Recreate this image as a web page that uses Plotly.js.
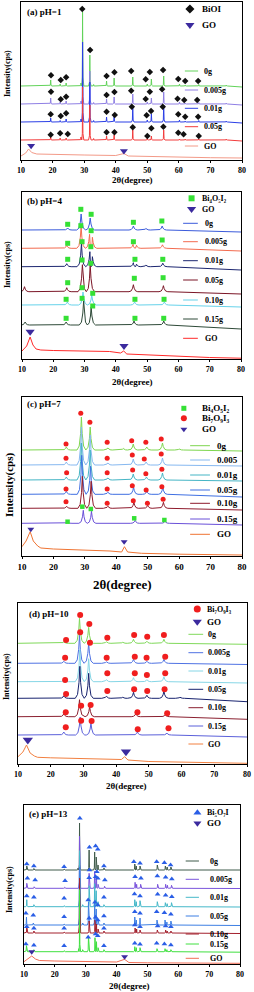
<!DOCTYPE html>
<html><head><meta charset="utf-8">
<script src="https://cdn.plot.ly/plotly-3.0.1.min.js"></script>
<style>html,body{margin:0;padding:0;background:#fff}#chart{width:254px;height:992px}</style>
</head><body><div id="chart"></div>
<script>
// ================= DATA (2θ in degrees, intensity in a.u.) =================
const xTicks = [10,20,30,40,50,60,70,80];
const xTickText = ['10','20','30','40','50','60','70','80'];

// ---- (a) pH=1 ----
const aNames = ['0g','0.005g','0.01g','0.05g','GO'];
const aBase = [74,56,38,20];
const aEnd  = [73,55,37,19];
const a0g   = [[19.4,6],[22.4,2],[24.3,3],[29.0,3],[29.5,74],[31.8,31],[33.0,1.5],[37.1,5],[39.5,8],[45.4,9],[50.0,2],[51.3,7],[55.2,10],[60.2,2],[62.0,1],[66.3,1.5],[75.0,1]];
const a005g = [[19.4,6],[22.4,2],[24.3,3],[29.0,3],[29.5,62],[31.8,33],[33.0,1.5],[37.1,5],[39.5,7],[45.4,10],[50.0,2],[51.3,6],[55.2,12],[60.2,2],[62.0,1],[66.3,1.5],[75.0,1]];
const a001g = [[19.4,4],[22.4,1.5],[24.3,3],[29.0,3],[29.5,80],[31.8,40],[33.0,1.5],[37.1,5],[39.5,6],[45.4,16],[50.0,2],[51.3,8],[55.2,17],[60.2,2],[62.0,1],[66.3,1.5],[75.0,1]];
const a005g2= [[19.4,3],[22.4,2],[24.3,2],[29.0,3],[29.5,53],[31.8,35],[33.0,1.5],[37.1,4],[39.5,5],[45.4,10],[50.0,2],[51.3,4],[55.2,10],[60.2,1],[62.0,1],[66.3,1],[75.0,1]];
const aGO   = [[10,4],[11.5,7],[12.4,11],[13.4,7.5],[15,6],[20,5.5],[30,5],[40,4.5],[42.6,6.5],[44,4],[50,3.5],[60,2.8],[70,2.3],[80,2]];
const aMkX = [
 [19.5,22.6,24.3,29.4,31.9,37.1,39.6,44.9,49.5,50.8,55.0,59.8,62.0,66.1],
 [19.5,22.6,24.3,37.1,39.6,44.9,49.5,50.8,54.7,59.6,61.7,65.8],
 [19.4,22.6,24.3,37.1,39.7,45.1,49.8,51.2,54.9,59.8,62.0,66.1],
 [19.4,22.4,24.8,37.1,39.6,45.4,50.0,51.3,55.1,59.8,61.5,66.3]];
const aMkY = [
 [84.7,80,82.7,151,110,84,87.7,89,80.7,88,90,81,79,79],
 [68.3,60.7,63.3,65,68,69.3,61,68.3,70.7,61.3,60,60],
 [45.7,44,46.7,48.3,45,53.3,44.7,49,53.3,45.7,43.3,43.3],
 [25.3,26.7,26,27.7,27.7,32.7,24,31.7,33.3,27.3,25.7,24]];
const aGOmkX = [13.2,42.6], aGOmkY = [14.3,9];

// ---- (b) pH=4 ----
const bNames = ['0g','0.005g','0.01g','0.05g','0.10g','0.15g','GO'];
const bBase = [129,110.7,92.3,67.3,54,34];
const bEnd  = [127,108,89,65,52,30];
const b0g   = [[24.6,2],[28.9,16],[31.8,12],[45.6,4],[49.6,1.5],[54.8,4]];
const b005g = [[24.3,3],[28.9,22],[31.6,14],[32.5,11],[45.5,4],[46.6,3],[54.9,3.5]];
const b001g = [[24.3,3],[29.0,23],[31.7,15],[32.5,10],[45.6,4],[46.6,2.5],[49.6,1.5],[55.0,3.5]];
const b005g2= [[10.8,5],[24.3,4],[29.3,27],[31.8,27],[45.6,7],[55.2,6]];
const b010g = [[24.5,3],[29.5,13],[32.3,10],[46.0,3],[55.5,3]];
const b015g = [[11.0,3],[24.1,3],[29.7,24],[32.1,18],[45.8,4],[55.3,4]];
const bGO   = [[10,8],[11.5,13],[12.6,22],[13.5,14],[14.5,10],[16,9],[20,8.5],[30,8],[38,7.5],[41.5,6],[42.5,8],[43.5,5],[50,4],[60,2.5],[70,1.5],[80,0.8]];
const bMkX = [
 [24.6,28.8,32.1,45.6,54.7],[24.6,28.8,32.1,45.6,54.8],[24.6,29.2,32.0,46.1,55.0],
 [24.6,29.2,32.0,45.9,55.1],[24.1,29.2,32.6,46.1,55.4],[24.1,29.2,32.6,46.1,55.3]];
const bMkY = [
 [134.7,149.7,144.7,136.7,138],[115.7,133.3,128.3,117.3,119],[99.7,117.3,112.3,99.7,99.7],
 [76.3,99,95.7,80.7,81.3],[59.7,71.3,65.7,59.7,59.7],[40.7,60.7,53,40.7,40.7]];
const bGOmkX = [12.6,42.6], bGOmkY = [27.3,13];

// ---- (c) pH=7 ----
const cNames = ['0g','0.005','0.01g','0.05g','0.10g','0.15g','GO'];
const cBase = [106,91,76,61.7,47.7,32.7];
const cEnd  = [105,90,75,59,46,31];
const c0g   = [[24.1,3],[28.9,33],[31.7,23],[37.3,2],[42.2,1.5],[45.4,6],[49.7,3],[54.7,7],[60.0,1]];
const c005  = [[24.1,3],[28.9,38],[31.7,30],[37.3,2],[45.4,6],[49.5,3],[54.7,7]];
const c001g = [[24.1,3],[28.9,37],[31.7,30],[37.3,2],[45.4,6],[49.6,3],[54.7,7]];
const c005g = [[24.1,3],[29.0,39],[31.8,28],[37.3,2],[45.5,7],[49.7,3],[54.8,7]];
const c010g = [[24.2,2],[29.2,32],[32.0,27],[37.3,2],[45.6,6],[50.0,3],[55.0,6]];
const c015g = [[24.5,1],[29.5,13],[32.1,12],[46.0,3],[55.5,2]];
const cGO   = [[10,9.3],[11.3,15],[12.6,24.3],[13.6,15],[15,10],[16,8],[20,7],[30,6],[38,5],[41.7,4],[42.6,9.3],[43.6,4],[48,2.7],[60,1.8],[70,1.3],[80,1]];
const cCircX = [[24.0,28.7,31.6,37.1,44.9,49.4,54.3],[24.0,37.1,45.1,48.9,54.3],[24.2,37.1,45.2,49.4,54.5],[24.0,37.1,45.1,49.5,54.5],[24.0,37.1,45.4,49.9,54.9]];
const cCircY = [[112,142.7,133.7,113.7,115.3,113.7,117],[97.7,97.7,101,97,102],[83.3,83.3,86,82.3,86.7],[67,67,70.3,66,69.3],[54.3,52.7,55.3,52.7,56.7]];
const cSqX = [24.5,29.2,31.9,45.7,55.3], cSqY = [34.3,49.3,47,37.7,36];
const cGOmkX = [12.8,42.5], cGOmkY = [26.7,14.3];

// ---- (d) pH=10 ----
const dNames = ['0g','0.005g','0.01g','0.05g','0.10g','0.15g','GO'];
const dBase = [120.7,100.7,82.3,65.7,47.3,29];
const dEnd  = [119.7,99.5,81,62.3,44.7,27];
const d0g   = [[24.0,1.5],[28.8,25],[31.6,16],[37.0,1.5],[42.0,1],[45.3,4],[49.4,2],[54.6,4]];
const d005g = [[24.0,2],[28.8,28],[31.6,20],[37.0,1.5],[45.3,4],[49.4,2],[54.6,4]];
const d001g = [[24.0,2],[28.9,32],[31.6,23],[37.0,2],[45.3,4],[49.4,2],[54.6,5]];
const d005g2= [[24.0,2.5],[28.9,32],[31.6,25],[37.0,2],[42.0,1],[45.3,6],[49.4,3],[54.6,7],[59.5,1]];
const d010g = [[24.0,3],[28.8,17],[31.9,10],[46.0,3],[55.0,2]];
const d015g = [[24.0,3],[29.0,18],[32.3,12],[46.5,3],[55.5,2]];
const dGO   = [[10,7.3],[11.5,12],[12.6,19],[13.7,11],[15,8],[16,6.7],[20,6.2],[30,5.7],[38,5],[41.6,4.5],[42.6,7.3],[43.6,4],[50,2.5],[60,1.8],[70,1.2],[80,0.7]];
const dMkX = [[24.7,29.0,31.8,37.3,45.5,49.5,54.6],[24.4,29.0,32.0,37.1,45.7,49.3,55.0],[24.4,37.3,45.7,49.4,55.0],[24.7,37.3,45.5,49.5,54.8],[24.6,29.3,32.2,46.5,55.6],[24.6,29.3,32.5,46.6,56.0]];
const dMkY = [[124,149,140,126.3,129,127.3,129],[106.3,131.7,121.3,106.3,107.3,106.3,107.3],[84,90.7,90.7,89,90.7],[70,73,74.7,73,74.7],[51.7,58.3,59,51.7,50.7],[36.7,43.3,43,34.7,35.7]];
const dGOmkX = [13.0,43.0], dGOmkY = [24,12.3];

// ---- (e) pH=13 ----
const eNames = ['0g','0.005g','0.01g','0.05g','0.10g','0.15g','GO'];
const eBase = [94,75.7,57.3,39,31,12.3];
const eEnd  = [94,75.5,57,38.5,30.5,11.8];
const e0g   = [[10.9,4],[13.2,1.5],[23.0,1],[27.5,2],[28.0,47],[31.1,20],[32.9,18],[33.4,13],[34.0,5],[35.9,2],[45.9,6],[46.4,4],[47.6,4],[53.2,5],[55.8,4],[56.4,3],[57.6,3]];
const e005g = [[10.9,5],[13.3,1.5],[23.2,1],[28.0,52],[31.1,15],[32.9,17],[33.5,12],[34.0,4],[36.1,2],[46.0,6],[46.5,4],[47.8,4],[53.3,4],[55.9,4],[56.5,3],[57.8,3]];
const e001g = [[10.9,7],[13.2,2],[23.0,1],[28.0,56],[29.0,2],[31.1,21],[32.9,23],[33.4,16],[34.0,5],[35.9,2],[45.9,7],[46.4,5],[47.6,6],[53.2,5],[55.8,4],[56.4,3],[57.8,4]];
const e005g2= [[10.8,8],[13.0,2],[23.0,1],[28.0,58],[29.0,2],[30.9,23],[32.9,22],[33.4,16],[34.0,5],[35.9,2],[45.9,8],[46.4,5],[47.6,7],[53.1,5],[55.7,5],[56.3,3],[57.6,4]];
const e010g = [[10.9,6],[13.2,2],[23.0,1],[28.0,55],[31.1,12],[33.0,13],[33.5,9],[34.0,4],[35.9,2],[46.0,5],[46.5,4],[47.6,3],[53.2,3],[55.9,3],[56.4,2],[57.6,2]];
const e015g = [[10.8,6],[13.2,2],[23.0,1],[27.7,3],[28.0,62],[29.0,2],[30.9,15],[33.0,14],[33.5,10],[34.0,4],[35.9,2],[45.9,5],[46.4,4],[47.6,4],[53.1,3],[55.7,3],[56.3,2],[57.6,2]];
const eGO   = [[10,2.3],[11.3,5],[12.5,8],[13.7,5],[15,3.5],[20,3],[30,2.5],[40,2],[42.6,4.7],[44,1.5],[50,1.2],[60,1],[80,0.7]];
const eMkX = [
 [10.9,13.2,23.0,28.1,31.2,33.2,33.9,35.9,45.6,47.6,53.0,55.5,57.5],
 [11.1,13.6,23.3,31.2,33.6,36.2,46.0,47.9,53.2,55.9,57.9],
 [10.9,13.2,23.0,31.1,33.2,33.9,35.9,45.8,47.6,53.3,55.9,57.9],
 [10.6,13.0,23.0,30.8,33.0,33.9,35.9,45.9,47.6,53.0,55.5,57.6],
 [10.9,13.2,23.0,31.1,33.2,33.9,35.9,45.9,47.6,53.3,55.9,57.6],
 [10.6,13.2,23.0,30.8,33.2,33.9,35.9,45.9,47.6,53.0,55.5,57.6]];
const eMkY = [
 [100,98,97.3,145.7,116.7,118,114.7,98,102.3,100.7,102.3,101.3,99],
 [85.7,84,83.3,94,92.3,84,87.3,85.7,88,86.7,85],
 [68,66.7,65.7,86.3,87.3,85.7,66.7,70,68,69.7,68.7,67.3],
 [50.7,48.7,47.3,64,61.7,59,48,52.3,50.7,52.3,51.3,49.7],
 [37.3,35.7,35.7,45.7,46.7,44,35.7,39,37.3,38,38,37.3],
 [20,18.7,18.3,26.7,30,28.3,18.3,20.7,19.7,20.7,20,19]];
const eGOmkX = [12.5,42.6], eGOmkY = [12.3,7.3];

// ================= STYLE / LAYOUT =================
const FW = 254, FH = 992;
const SERIF = 'Liberation Serif, Times New Roman, serif';
const boxes = [[21,242,2,160],[22,241,192,359],[22,242,397,556],[18,247,603,764],[24,240,805,964]]; // px: left,right,top,bottom

function curve(base, end, peaks, W, broad){
  const x=[10], y=[base];
  peaks.forEach((pk,i)=>{
    const p=pk[0], h=pk[1];
    let wl=W, wr=W;
    if(i>0) wl=Math.min(W,(p-peaks[i-1][0])/2);
    if(i<peaks.length-1) wr=Math.min(W,(peaks[i+1][0]-p)/2);
    if(broad){
      x.push(p-wl,p-0.5*wl,p-0.18*wl,p,p+0.18*wr,p+0.5*wr,p+wr);
      y.push(base,base+0.12*h,base+0.5*h,base+h,base+0.5*h,base+0.12*h,base);
    } else { x.push(p-wl,p-0.3*wl,p,p+0.3*wr,p+wr); y.push(base,base+0.12*h,base+h,base+0.12*h,base); }
  });
  x.push(80); y.push(end);
  return {x,y};
}
function pts(arr){ return {x:arr.map(p=>p[0]), y:arr.map(p=>p[1])}; }

const traces=[], shapes=[], annotations=[];
const layout = {width:FW,height:FH,margin:{l:0,r:0,t:0,b:0},paper_bgcolor:'#fff',plot_bgcolor:'#fff',showlegend:false,shapes,annotations};

function px2paperX(v){return v/FW;} function px2paperY(v){return 1-v/FH;}

function addPanel(i, cfg){
  const [l,r,t,b] = boxes[i];
  const n = i===0?'':String(i+1);
  const xa='x'+n, ya='y'+n;
  const tickSize = cfg.tickSize||8;
  layout['xaxis'+n] = {domain:[l/FW,r/FW], anchor:ya, range:[10,80], tickvals:xTicks, ticktext:xTickText,
    ticks:'outside', ticklen:2, tickwidth:1, tickcolor:'#000', showline:true, mirror:true, linecolor:'#000', linewidth:1.3,
    showgrid:false, zeroline:false, tickfont:{family:SERIF,size:tickSize,weight:700,color:'#000'}, fixedrange:true};
  layout['yaxis'+n] = {domain:[1-b/FH,1-t/FH], anchor:xa, range:[0,b-t], showticklabels:false, ticks:'',
    showline:true, mirror:true, linecolor:'#000', linewidth:1.3, showgrid:false, zeroline:false, fixedrange:true};
  cfg.curves.forEach((c,k)=>{
    const d = c.pts ? pts(c.pts) : curve(c.base,c.end,c.peaks,cfg.W,cfg.broad);
    traces.push({type:'scatter',mode:'lines',x:d.x,y:d.y,xaxis:xa,yaxis:ya,line:{color:c.color,width:1},hoverinfo:'skip'});
  });
  cfg.markers.forEach(m=>{
    traces.push({type:'scatter',mode:'markers',x:m.x,y:m.y,xaxis:xa,yaxis:ya,
      marker:{symbol:m.symbol,size:m.size,color:m.color,line:{width:0}},hoverinfo:'skip'});
  });
  const lg = cfg.legend;
  lg.ys.forEach((yv,k)=>{
    shapes.push({type:'line',xref:xa,yref:ya,x0:lg.x0,x1:lg.x1,y0:yv,y1:yv,line:{color:cfg.curves[k].color,width:1}});
    annotations.push({xref:xa,yref:ya,x:lg.tx,y:yv,text:cfg.names[k],showarrow:false,xanchor:'left',yanchor:'middle',
      font:{family:SERIF,size:lg.fs||8,weight:700,color:'#000'}});
  });
  cfg.keys.forEach(kk=>{
    traces.push({type:'scatter',mode:'markers',x:[kk.x],y:[kk.y],xaxis:xa,yaxis:ya,marker:{symbol:kk.symbol,size:kk.size,color:kk.color},hoverinfo:'skip'});
    annotations.push({xref:xa,yref:ya,x:kk.tx,y:kk.y,text:kk.text,showarrow:false,xanchor:'left',yanchor:'middle',
      font:{family:SERIF,size:kk.fs||9,weight:700,color:'#000'}});
  });
  annotations.push({xref:'paper',yref:'paper',x:px2paperX(cfg.label[1]),y:px2paperY(cfg.label[2]),text:cfg.label[0],showarrow:false,
    xanchor:'left',yanchor:'middle',font:{family:SERIF,size:9,weight:700,color:'#000'}});
  annotations.push({xref:'paper',yref:'paper',x:px2paperX(cfg.ytitle[0]),y:px2paperY(cfg.ytitle[1]),text:'Intensity(cps)',textangle:-90,showarrow:false,
    xanchor:'center',yanchor:'middle',font:{family:SERIF,size:cfg.ytitle[2],weight:700,color:'#000'}});
  annotations.push({xref:'paper',yref:'paper',x:px2paperX(cfg.xtitle[0]),y:px2paperY(cfg.xtitle[1]),text:'2θ(degree)',showarrow:false,
    xanchor:'center',yanchor:'middle',font:{family:SERIF,size:cfg.xtitle[2],weight:700,color:'#000'}});
}

const DIA='#111', TRID='#3b2a9e', SQ='#35e035', CIR='#f01e1e', TRIU='#2a5ee6';

// (a)
const aCols=['#62d35a','#8f7fe4','#2b3fe6','#f23c3c','#f39a88'];
addPanel(0,{W:0.4,broad:false,names:aNames,
  curves:[{base:aBase[0],end:aEnd[0],peaks:a0g,color:aCols[0]},{base:aBase[1],end:aEnd[1],peaks:a005g,color:aCols[1]},
          {base:aBase[2],end:aEnd[2],peaks:a001g,color:aCols[2]},{base:aBase[3],end:aEnd[3],peaks:a005g2,color:aCols[3]},
          {pts:aGO,color:aCols[4]}],
  markers:[0,1,2,3].map(k=>({x:aMkX[k],y:aMkY[k],symbol:'diamond',size:5,color:DIA})).concat([{x:aGOmkX,y:aGOmkY,symbol:'triangle-down',size:7,color:TRID}]),
  legend:{x0:61.9,x1:66.1,tx:67.3,ys:[89,70,51.7,33.3,14]},
  keys:[{x:63.5,y:151,symbol:'diamond',size:7,color:DIA,tx:66.7,text:'BiOI'},{x:63.5,y:135,symbol:'triangle-down',size:8,color:TRID,tx:66.7,text:'GO'}],
  label:['(a) pH=1',25,12], ytitle:[8,74,8], xtitle:[132,180,9]});

// (b)
const bCols=['#3b5bdb','#f36b4f','#1c2670','#7b1526','#66d2ea','#2e4a38','#ff2a2a'];
addPanel(1,{W:1.4,broad:true,names:bNames,
  curves:[b0g,b005g,b001g,b005g2,b010g,b015g].map((p,k)=>({base:bBase[k],end:bEnd[k],peaks:p,color:bCols[k]})).concat([{pts:bGO,color:bCols[6]}]),
  markers:[0,1,2,3,4,5].map(k=>({x:bMkX[k],y:bMkY[k],symbol:'square',size:5,color:SQ})).concat([{x:bGOmkX,y:bGOmkY,symbol:'triangle-down',size:8,color:TRID}]),
  legend:{x0:61.5,x1:66.2,tx:67.8,ys:[135.7,117.3,98.3,79,59,40,20.7]},
  keys:[{x:64.2,y:160.7,symbol:'square',size:6,color:SQ,tx:66.9,text:'Bi₄O₅I₂',fs:8},{x:64.2,y:150,symbol:'triangle-down',size:8,color:TRID,tx:66.9,text:'GO',fs:8}],
  label:['(b) pH=4',25,201], ytitle:[8,265,8], xtitle:[132,382,9]});

// (c)
const cCols=['#7ed64f','#86b8f0','#45b5c5','#3f6fe2','#8e1a2c','#6a50d8','#ef7433'];
addPanel(2,{W:1.4,broad:true,names:cNames,tickSize:9,
  curves:[c0g,c005,c001g,c005g,c010g,c015g].map((p,k)=>({base:cBase[k],end:cEnd[k],peaks:p,color:cCols[k]})).concat([{pts:cGO,color:cCols[6]}]),
  markers:[0,1,2,3,4].map(k=>({x:cCircX[k],y:cCircY[k],symbol:'circle',size:5,color:CIR})).concat([
    {x:cSqX,y:cSqY,symbol:'square',size:4.5,color:SQ},{x:cGOmkX,y:cGOmkY,symbol:'triangle-down',size:6,color:TRID}]),
  legend:{x0:63.5,x1:69.8,tx:71.4,ys:[110.3,96,81,66,52.7,37,21.7],fs:9},
  keys:[{x:61.5,y:147.7,symbol:'square',size:5,color:SQ,tx:66.6,text:'Bi₄O₅I₂',fs:9},
        {x:61.5,y:137.7,symbol:'circle',size:6,color:CIR,tx:66.6,text:'Bi₇O₉I₃',fs:9},
        {x:61.5,y:126.7,symbol:'triangle-down',size:6,color:TRID,tx:66.6,text:'GO',fs:9}],
  label:['(c) pH=7',25,404], ytitle:[9,485,11], xtitle:[122,584,13]});

// (d)
const dCols=['#80d95a','#4f72e3','#86d6e6','#17226e','#8b2030','#5b60da','#f28040'];
addPanel(3,{W:1.4,broad:true,names:dNames,
  curves:[d0g,d005g,d001g,d005g2,d010g,d015g].map((p,k)=>({base:dBase[k],end:dEnd[k],peaks:p,color:dCols[k]})).concat([{pts:dGO,color:dCols[6]}]),
  markers:[0,1,2,3,4,5].map(k=>({x:dMkX[k],y:dMkY[k],symbol:'circle',size:6,color:CIR})).concat([{x:dGOmkX,y:dGOmkY,symbol:'triangle-down',size:9,color:TRID}]),
  legend:{x0:62.1,x1:66.6,tx:67.5,ys:[129.7,111.3,93,74.7,56.3,38,20]},
  keys:[{x:64.8,y:155,symbol:'circle',size:7,color:CIR,tx:67.2,text:'Bi₇O₉I₃',fs:8},{x:64.8,y:142.3,symbol:'triangle-down',size:8,color:TRID,tx:67.2,text:'GO',fs:9}],
  label:['(d) pH=10',27,614], ytitle:[6,677,8], xtitle:[126,786,9]});

// (e)
const eCols=['#3f5a4a','#7b55dc','#45b8c9','#3d7fe3','#a3202d','#40e040','#f26d55'];
addPanel(4,{W:0.35,broad:false,names:eNames,
  curves:[e0g,e005g,e001g,e005g2,e010g,e015g].map((p,k)=>({base:eBase[k],end:eEnd[k],peaks:p,color:eCols[k]})).concat([{pts:eGO,color:eCols[6]}]),
  markers:[0,1,2,3,4,5].map(k=>({x:eMkX[k],y:eMkY[k],symbol:'triangle-up',size:5,color:TRIU})).concat([{x:eGOmkX,y:eGOmkY,symbol:'triangle-down',size:6,color:TRID}]),
  legend:{x0:62.4,x1:66.7,tx:69.5,ys:[103,84.7,66.7,48,30,20,5.7]},
  keys:[{x:66.2,y:151.3,symbol:'triangle-up',size:7,color:TRIU,tx:68.7,text:'Bi₅O₇I',fs:8},{x:66.2,y:140.7,symbol:'triangle-down',size:7,color:TRID,tx:68.7,text:'GO',fs:9}],
  label:['(e) pH=13',27,814], ytitle:[9,890,8], xtitle:[129,986,9]});

Plotly.newPlot('chart', traces, layout, {staticPlot:true, displayModeBar:false});
</script></body></html>
